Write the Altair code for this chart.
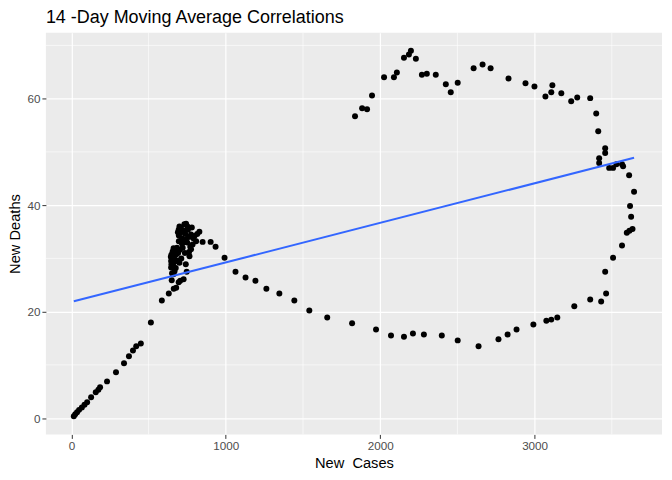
import altair as alt
import pandas as pd

cases = [16, 25, 37, 50, 68, 85, 102, 128, 158, 175, 186, 231, 289, 341, 373, 399, 420, 450, 515, 586, 631, 663,
         679, 650, 695, 705, 727, 661, 747, 646, 648, 646, 650, 648, 656, 662, 668, 672, 676, 668, 741, 700, 712,
         684, 692, 721, 735, 765, 775, 785, 696, 696, 695, 710, 732, 743, 720, 755, 760, 775, 797, 808, 829, 850,
         740, 715, 652, 655, 658, 644, 660, 664, 670, 680, 688, 703, 716, 725, 738, 750, 770, 790, 705, 690, 700,
         730, 752, 780, 815, 762,
         902, 934, 992, 1063, 1128, 1192, 1263, 1347, 1444, 1541, 1657, 1818, 1973, 2070, 2154, 2212, 2283, 2399,
         2502, 2637, 2766, 2825, 2883, 2992, 3076, 3108, 3147, 3257, 3360, 3431, 3463, 3457, 3508, 3566, 3597,
         3614, 3634, 3625, 3618, 3644, 3612, 3573, 3566, 3530, 3508, 3483, 3418, 3418, 3457, 3457, 3412, 3399,
         3360, 3276, 3237, 3173, 3115, 3108, 3070, 2999, 2941, 2831, 2715, 2663, 2605, 2502, 2457, 2425, 2360,
         2302, 2270, 2231, 2199, 2186, 2154, 2108, 2089, 2025, 1947, 1915, 1883, 1837]
deaths = [0.37, 0.75, 1.1, 1.55, 2.0, 2.5, 3.0, 3.93, 4.86, 5.35, 5.8, 6.9, 8.6, 10.3, 11.6, 12.7, 13.5, 14.0, 17.96,
          22.1, 23.4, 24.3,
          24.5, 25.9, 25.5, 25.8, 26.1, 27.0, 27.5, 28.3, 28.9, 29.5, 30.1, 30.7, 31.3, 31.9, 30.5, 29.4, 28.2,
          27.6, 28.9, 29.2, 30.0, 32.0, 31.0, 32.0, 31.0, 30.4, 31.7, 32.6, 33.2, 34.3, 35.4, 35.7, 36.4, 36.5,
          35.0, 35.4, 34.0, 34.5, 34.2, 33.2, 35.0, 33.1, 33.5, 33.8, 27.2, 29.8, 31.0, 30.3, 28.6, 29.9, 31.4,
          30.8, 29.6, 31.6, 32.8, 33.0, 34.6, 33.0, 32.2, 33.8, 34.8, 34.9, 36.0, 35.2, 36.0, 35.8, 34.6, 31.2,
          33.1, 32.2, 30.1, 27.5, 26.4, 25.8, 24.3, 23.4, 22.1, 20.2, 18.9, 17.8, 16.65, 15.5, 15.3, 15.9, 15.7,
          15.5, 14.6, 13.5, 14.8, 15.7, 16.65, 17.6, 18.3, 18.5, 18.9, 21.0, 22.3, 21.9, 23.4, 27.5, 30.1, 32.4,
          34.8, 35.2, 35.5, 37.8, 39.85, 42.5, 45.6, 47.3, 47.7, 47.7, 47.0, 47.0, 47.9, 48.8, 49.8, 50.7, 53.9,
          57.2, 60.1, 60.2, 59.5, 61.0, 62.5, 61.2, 60.4, 62.3, 62.9, 63.8, 65.7, 66.4, 65.7, 63.0, 61.2, 62.7,
          64.5, 64.7, 64.5, 67.5, 69.0, 68.3, 67.7, 64.9, 64.0, 64.0, 60.6, 58.0, 58.2, 56.7]

x_ticks = [0, 1000, 2000, 3000]
y_ticks = [0, 20, 40, 60]
x_minor = [500, 1500, 2500, 3500]
y_minor = [10, 30, 50, 70]

df = pd.DataFrame({"cases": cases, "deaths": deaths})
xmin_df = pd.DataFrame({"v": x_minor})
ymin_df = pd.DataFrame({"v": y_minor})

xscale = alt.Scale(domain=[-165, 3825], nice=False, zero=False)
yscale = alt.Scale(domain=[-3.06, 72.4], nice=False, zero=False)

xaxis = alt.Axis(values=x_ticks, title="New\u00a0 Cases", format="d")
yaxis = alt.Axis(values=y_ticks, title="New Deaths", format="d")

minor_x = alt.Chart(xmin_df).mark_rule(color="white", strokeWidth=0.6).encode(
    x=alt.X("v:Q", scale=xscale, axis=xaxis)
)
minor_y = alt.Chart(ymin_df).mark_rule(color="white", strokeWidth=0.6).encode(
    y=alt.Y("v:Q", scale=yscale, axis=yaxis)
)

points = alt.Chart(df).mark_circle(color="black", size=36, opacity=1).encode(
    x=alt.X("cases:Q", scale=xscale, axis=xaxis),
    y=alt.Y("deaths:Q", scale=yscale, axis=yaxis),
)

line = alt.Chart(df).transform_regression("cases", "deaths", method="linear").mark_line(
    color="#3366FF", strokeWidth=2
).encode(
    x=alt.X("cases:Q", scale=xscale, axis=xaxis),
    y=alt.Y("deaths:Q", scale=yscale, axis=yaxis),
)

chart = alt.layer(minor_x, minor_y, points, line).properties(
    width=618,
    height=403,
    autosize=alt.AutoSizeParams(type="none"),
    padding={"left": 38, "top": 24, "right": 2, "bottom": 40},
    background="white",
    title=alt.TitleParams(
        "14 -Day Moving Average Correlations",
        anchor="start",
        frame="group",
        font="Liberation Sans",
        fontSize=18,
        fontWeight="normal",
        color="black",
        offset=5,
    ),
).configure_view(
    fill="#EBEBEB", stroke=None
).configure_axis(
    grid=True,
    gridColor="white",
    gridWidth=1.2,
    domain=False,
    tickColor="#333333",
    tickSize=4,
    tickWidth=1,
    labelFont="Liberation Sans",
    labelFontSize=11.7,
    labelColor="#4D4D4D",
    labelPadding=2,
    titleFont="Liberation Sans",
    titleFontSize=14.7,
    titleFontWeight="normal",
    titleColor="black",
).configure_axisX(
    titlePadding=3
).configure_axisY(
    titlePadding=4
)

chart.save("out.html", embed_options={"renderer": "svg", "actions": False})
